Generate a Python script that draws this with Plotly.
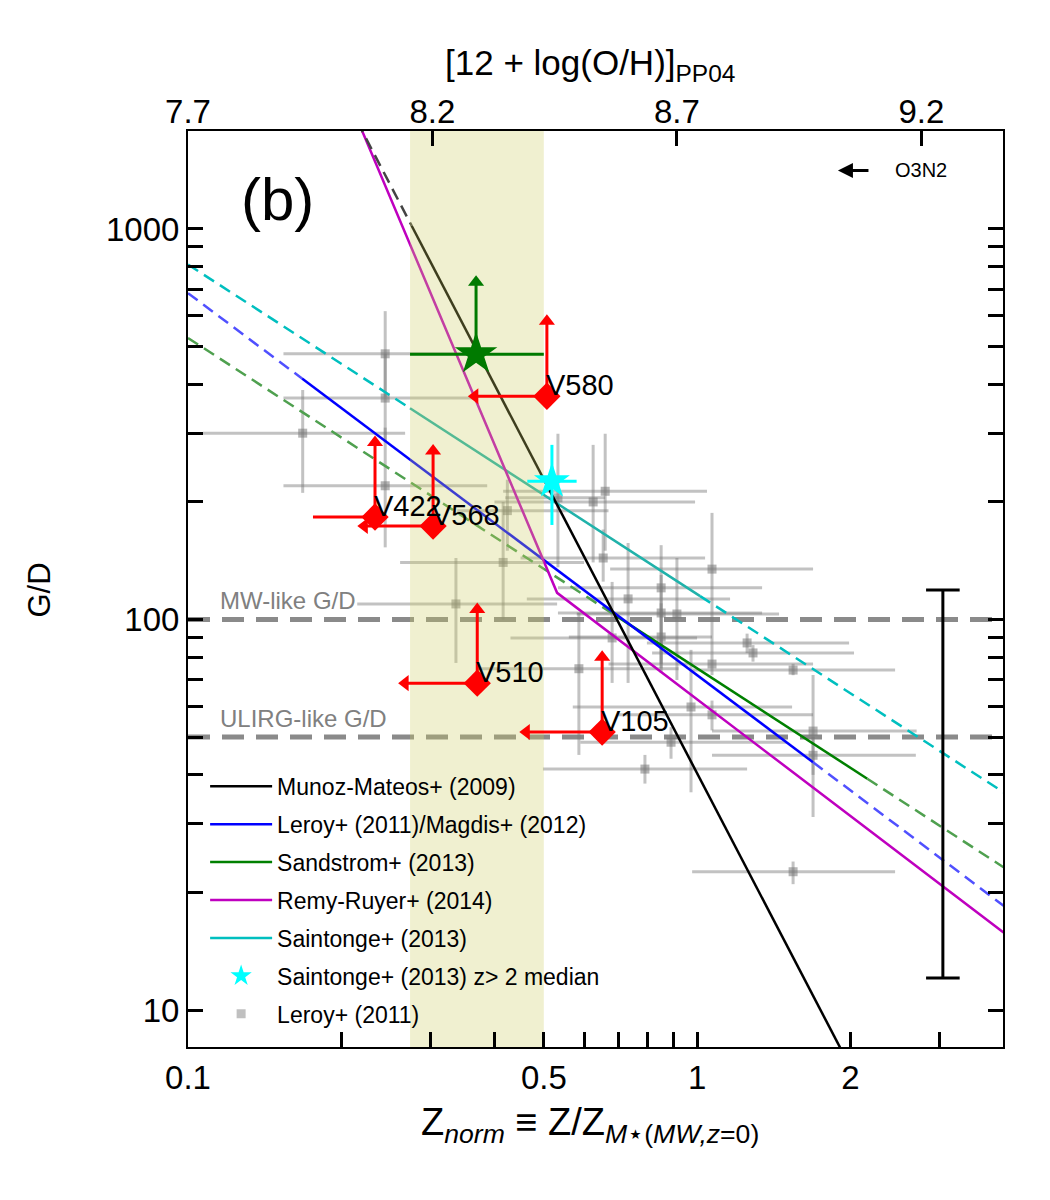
import numpy as np
import plotly.graph_objects as go

# ---------------- data ----------------
# Leroy+ (2011) galaxies (grey squares) with asymmetric error ranges
leroy_z    = [0.244, 0.244, 0.168, 0.244, 0.424, 0.416, 0.336, 0.660, 0.625, 0.533,
              0.654, 1.070, 0.732, 0.850, 0.850, 0.913, 0.681, 0.850, 1.254, 1.288,
              1.070, 1.544, 0.586, 0.973, 1.070, 1.690, 1.690, 0.889, 0.790, 1.544]
leroy_gd   = [479, 369, 300, 220, 190, 140, 109.6, 213, 200, 205,
              143.7, 134.6, 112.9, 120.5, 103.9, 103.3, 89.7, 90.2, 87.1, 82.1,
              76.9, 74.2, 74.8, 59.7, 57.0, 51.8, 44.9, 48.5, 41.4, 22.6]
leroy_z_lo = [0.154, 0.154, 0.107, 0.154, 0.338, 0.261, 0.215, 0.416, 0.400, 0.420,
              0.450, 0.675, 0.463, 0.533, 0.533, 0.580, 0.430, 0.560, 0.797, 0.816,
              0.670, 0.980, 0.370, 0.570, 0.700, 1.070, 1.070, 0.590, 0.498, 0.978]
leroy_z_hi = [0.370, 0.366, 0.267, 0.387, 0.670, 0.600, 0.531, 1.046, 0.991, 0.660,
              1.037, 1.690, 1.161, 1.342, 1.342, 1.449, 1.000, 1.070, 1.989, 2.034,
              1.690, 2.449, 0.920, 1.537, 1.690, 2.700, 2.690, 1.500, 1.254, 2.449]
leroy_gd_lo = [372, 285, 211, 153, 150, 100, 77.4, 150, 140, 136,
               125, 82.1, 68.8, 77, 75, 70, 68.8, 73, 82, 78,
               72, 72, 45, 36.1, 52, 31.2, 40, 44, 38, 21]
leroy_gd_hi = [616, 479, 387, 310, 228, 200, 143.7, 299, 280, 299,
               170, 187.5, 157, 155, 130, 143.7, 124.8, 110, 92, 86,
               82, 77, 104, 83.6, 62, 72.1, 50, 53, 45, 24]

# Relations (end points of drawn segments)
mm_dash_z, mm_dash_gd = [0.215, 0.275], [1885, 1019]
mm_z, mm_gd = [0.275, 2.0], [1019, 7.14]

leroy_rel_dash1_z, leroy_rel_dash1_gd = [0.1, 0.1675], [685, 414]
leroy_rel_z, leroy_rel_gd = [0.1675, 1.69], [414, 43.1]
leroy_rel_dash2_z, leroy_rel_dash2_gd = [1.69, 4.0], [43.1, 18.5]

sand_dash1_z, sand_dash1_gd = [0.1, 0.69], [526, 102.6]
sand_z, sand_gd = [0.69, 2.16], [102.6, 39.1]
sand_dash2_z, sand_dash2_gd = [2.16, 4.0], [39.1, 23.2]

remy_z, remy_gd = [0.21, 0.531, 4.0], [2053, 117, 15.8]

sain_dash1_z, sain_dash1_gd = [0.1, 0.273], [811, 347.5]
sain_z, sain_gd = [0.273, 1.014], [347.5, 114.8]
sain_dash2_z, sain_dash2_gd = [1.014, 4.0], [114.8, 36.1]

# shaded metallicity range
band_z = [0.273, 0.5]

# reference G/D levels
mw_gd, ulirg_gd = 100, 50

# green star
gstar_z, gstar_gd = 0.368, 478
gstar_z_lo, gstar_z_hi = 0.273, 0.5
gstar_gd_lim = 730

# cyan star: Saintonge+ (2013) z>2 median
cstar_z, cstar_gd = 0.5187, 226
cstar_z_lo, cstar_z_hi = 0.464, 0.580
cstar_gd_lo, cstar_gd_hi = 174.6, 280

# red sources: limits
red_names = ['V580', 'V422', 'V568', 'V510', 'V105']
red_z = [0.507, 0.233, 0.303, 0.370, 0.651]
red_gd = [373, 183, 173.5, 68.7, 51.5]
red_z_lim = [0.366, 0.176, 0.222, 0.267, 0.462]
red_gd_lim = [580, 284, 270, 106, 80]
red_left_head = [True, False, True, True, True]

# typical uncertainty bar
err_z, err_gd_lo, err_gd_hi = 3.04, 12.08, 119

# axis ticks
x_tickvals = [0.1, 0.2, 0.3, 0.4, 0.5, 0.6, 0.7, 0.8, 0.9, 1, 2, 3]
x_ticktext = ['0.1', '', '', '', '0.5', '', '', '', '', '1', '2', '']
y_tickvals = [10, 20, 30, 40, 50, 60, 70, 80, 90, 100, 200, 300, 400, 500, 600, 700, 800, 900, 1000]
y_ticktext = ['10'] + [''] * 8 + ['100'] + [''] * 8 + ['1000']
oh_tickvals = [7.7, 8.2, 8.7, 9.2]

legend_labels = ['Munoz-Mateos+ (2009)', 'Leroy+ (2011)/Magdis+ (2012)', 'Sandstrom+ (2013)',
                 'Remy-Ruyer+ (2014)', 'Saintonge+ (2013)', 'Saintonge+ (2013) z> 2 median',
                 'Leroy+ (2011)']

# ---------------- figure ----------------
FONT = 'Liberation Sans, Arial, sans-serif'
fig = go.Figure()

# grey data
lz, lg = np.array(leroy_z), np.array(leroy_gd)
fig.add_trace(go.Scatter(
    x=lz, y=lg, mode='markers',
    marker=dict(symbol='square', size=9, color='rgba(120,120,120,0.55)'),
    error_x=dict(type='data', array=np.array(leroy_z_hi) - lz, arrayminus=lz - np.array(leroy_z_lo),
                 color='rgba(120,120,120,0.45)', thickness=3, width=0),
    error_y=dict(type='data', array=np.array(leroy_gd_hi) - lg, arrayminus=lg - np.array(leroy_gd_lo),
                 color='rgba(120,120,120,0.45)', thickness=3, width=0),
    showlegend=False, hoverinfo='skip'))

DASH = '12px,7px'
def seg(x, y, color, dash=None, width=2.5):
    fig.add_trace(go.Scatter(x=x, y=y, mode='lines',
                             line=dict(color=color, width=width, dash=dash),
                             showlegend=False, hoverinfo='skip'))

seg(sand_dash1_z, sand_dash1_gd, '#4fa04f', DASH)
seg(sand_z, sand_gd, '#008000')
seg(sand_dash2_z, sand_dash2_gd, '#4fa04f', DASH)
seg(leroy_rel_dash1_z, leroy_rel_dash1_gd, '#5050ff', DASH)
seg(leroy_rel_z, leroy_rel_gd, '#0000ff')
seg(leroy_rel_dash2_z, leroy_rel_dash2_gd, '#5050ff', DASH)
seg(sain_dash1_z, sain_dash1_gd, '#00bfbf', DASH)
seg(sain_z, sain_gd, '#20b2aa')
seg(sain_dash2_z, sain_dash2_gd, '#00bfbf', DASH)
seg(remy_z, remy_gd, '#bf00bf')
seg(mm_dash_z, mm_dash_gd, '#444444', DASH)
seg(mm_z, mm_gd, '#000000')

# shaded band (translucent, drawn above lines)
fig.add_trace(go.Scatter(
    x=[band_z[0], band_z[1], band_z[1], band_z[0], band_z[0]],
    y=[1, 1, 1e5, 1e5, 1], mode='lines', fill='toself',
    fillcolor='rgba(204,204,100,0.30)', line=dict(width=0),
    showlegend=False, hoverinfo='skip'))

# typical uncertainty bar
fig.add_trace(go.Scatter(
    x=[err_z, err_z], y=[err_gd_lo, err_gd_hi], mode='lines+markers',
    line=dict(color='black', width=3),
    marker=dict(symbol='line-ew', size=24, color='black', line=dict(width=3, color='black')),
    showlegend=False, hoverinfo='skip'))

# green star with range and up arrow
GCOL = '#007a00'
fig.add_trace(go.Scatter(x=[gstar_z, gstar_z], y=[gstar_gd, gstar_gd_lim], mode='lines',
                         line=dict(color=GCOL, width=3), showlegend=False, hoverinfo='skip'))
fig.add_trace(go.Scatter(x=[gstar_z], y=[gstar_gd_lim], mode='markers',
                         marker=dict(symbol='triangle-up', size=14, color=GCOL),
                         showlegend=False, hoverinfo='skip'))
fig.add_trace(go.Scatter(
    x=[gstar_z], y=[gstar_gd], mode='markers',
    marker=dict(symbol='star', size=32, color=GCOL, line=dict(width=0)),
    error_x=dict(type='data', array=[gstar_z_hi - gstar_z], arrayminus=[gstar_z - gstar_z_lo],
                 color=GCOL, thickness=3, width=0),
    showlegend=False, hoverinfo='skip'))

# cyan star
fig.add_trace(go.Scatter(
    x=[cstar_z], y=[cstar_gd], mode='markers',
    marker=dict(symbol='star', size=27, color='#00ffff', line=dict(width=0)),
    error_x=dict(type='data', array=[cstar_z_hi - cstar_z], arrayminus=[cstar_z - cstar_z_lo],
                 color='#00ffff', thickness=3, width=0),
    error_y=dict(type='data', array=[cstar_gd_hi - cstar_gd], arrayminus=[cstar_gd - cstar_gd_lo],
                 color='#00ffff', thickness=3, width=0),
    showlegend=False, hoverinfo='skip'))

# red limits
RED = '#ff0000'
lx, ly = [], []
for z, g, zl, gl in zip(red_z, red_gd, red_z_lim, red_gd_lim):
    lx += [z, zl, None, z, z, None]
    ly += [g, g, None, g, gl, None]
fig.add_trace(go.Scatter(x=lx, y=ly, mode='lines', line=dict(color=RED, width=3),
                         showlegend=False, hoverinfo='skip'))
fig.add_trace(go.Scatter(x=red_z, y=red_gd_lim, mode='markers',
                         marker=dict(symbol='triangle-up', size=14, color=RED),
                         showlegend=False, hoverinfo='skip'))
fig.add_trace(go.Scatter(x=[z for z, h in zip(red_z_lim, red_left_head) if h],
                         y=[g for g, h in zip(red_gd, red_left_head) if h], mode='markers',
                         marker=dict(symbol='triangle-left', size=14, color=RED),
                         showlegend=False, hoverinfo='skip'))
fig.add_trace(go.Scatter(x=red_z, y=red_gd, mode='markers',
                         marker=dict(symbol='diamond', size=21, color=RED, line=dict(width=0)),
                         showlegend=False, hoverinfo='skip'))

# legend-only entries
leg_styles = [dict(mode='lines', line=dict(color='#000000', width=2.5)),
              dict(mode='lines', line=dict(color='#0000ff', width=2.5)),
              dict(mode='lines', line=dict(color='#008000', width=2.5)),
              dict(mode='lines', line=dict(color='#bf00bf', width=2.5)),
              dict(mode='lines', line=dict(color='#00bfbf', width=2.5)),
              dict(mode='markers', marker=dict(symbol='star', size=26, color='#00ffff')),
              dict(mode='markers', marker=dict(symbol='square', size=9, color='#c0c0c0'))]
for i, (lab, st) in enumerate(zip(legend_labels, leg_styles)):
    fig.add_trace(go.Scatter(x=[None], y=[None], name=lab, legendgroup=f'g{i}', **st))

# invisible trace on top axis
fig.add_trace(go.Scatter(x=[8.0], y=[100], xaxis='x2', mode='markers',
                         marker=dict(opacity=0), showlegend=False, hoverinfo='skip'))

# horizontal reference levels
for lev in (mw_gd, ulirg_gd):
    fig.add_shape(type='line', xref='paper', x0=0, x1=1, yref='y', y0=lev, y1=lev,
                  line=dict(color='#8a8a8a', width=5, dash='22px,12px'), layer='below')

ann = []
for name, z, g in zip(red_names, red_z, red_gd):
    ann.append(dict(x=np.log10(z), y=np.log10(g), xref='x', yref='y', text=name, showarrow=False,
                    xanchor='left', yanchor='middle', xshift=-3, yshift=11,
                    font=dict(size=29, color='black', family=FONT)))
ann += [
    dict(x=0.037, y=np.log10(mw_gd), xref='paper', yref='y', text='MW-like G/D', showarrow=False,
         xanchor='left', yanchor='bottom', yshift=3, font=dict(size=24, color='#808080', family=FONT)),
    dict(x=0.037, y=np.log10(ulirg_gd), xref='paper', yref='y', text='ULIRG-like G/D', showarrow=False,
         xanchor='left', yanchor='bottom', yshift=3, font=dict(size=24, color='#808080', family=FONT)),
    dict(x=0.110, y=0.925, xref='paper', yref='paper', text='(b)', showarrow=False,
         xanchor='center', yanchor='middle', font=dict(size=60, color='black', family=FONT)),
    dict(x=0.7975, y=0.957, xref='paper', yref='paper', text='', showarrow=True,
         ax=32, ay=0, arrowhead=2, arrowsize=1, arrowwidth=3, arrowcolor='black'),
    dict(x=0.865, y=0.957, xref='paper', yref='paper', text='O3N2', showarrow=False,
         xanchor='left', yanchor='middle', font=dict(size=20, color='black', family=FONT)),
    dict(x=-0.182, y=0.499, xref='paper', yref='paper', text='G/D', showarrow=False, textangle=-90,
         xanchor='center', yanchor='middle', font=dict(size=31, color='black', family=FONT)),
    dict(x=0.493, y=-0.085, xref='paper', yref='paper',
         text='Z<sub><i>norm</i></sub> ≡ Z/Z<sub><i>M</i>⋆(<i>MW,z</i>=0)</sub>', showarrow=False,
         xanchor='center', yanchor='middle', font=dict(size=38, color='black', family=FONT)),
    dict(x=0.493, y=1.072, xref='paper', yref='paper',
         text='[12 + log(O/H)]<sub>PP04</sub>', showarrow=False,
         xanchor='center', yanchor='middle', font=dict(size=35, color='black', family=FONT)),
]

axis_common = dict(ticks='inside', ticklen=15, tickwidth=3, tickcolor='black', showgrid=False,
                   zeroline=False, linecolor='black', linewidth=2, automargin=False,
                   tickfont=dict(size=33, color='black', family=FONT))

fig.update_layout(
    width=1050, height=1200, margin=dict(l=188, r=47, t=131, b=153),
    paper_bgcolor='white', plot_bgcolor='white',
    xaxis=dict(type='log', range=[-1, 0.601], tickvals=x_tickvals, ticktext=x_ticktext,
               showline=True, mirror=True, **axis_common),
    xaxis2=dict(overlaying='x', side='top', range=[7.7, 9.367], tickvals=oh_tickvals,
                ticktext=[f'{v:.1f}' for v in oh_tickvals], showline=False, **axis_common),
    yaxis=dict(type='log', range=[np.log10(8.04), np.log10(1782)], tickvals=y_tickvals,
               ticktext=y_ticktext, showline=True, mirror='ticks', **axis_common),
    legend=dict(x=0.021, y=0.308, xanchor='left', yanchor='top', bgcolor='rgba(0,0,0,0)',
                font=dict(size=23, color='black', family=FONT), tracegroupgap=5,
                itemwidth=62, traceorder='grouped'),
    annotations=ann,
    font=dict(family=FONT),
)

fig.write_html('out.html')
